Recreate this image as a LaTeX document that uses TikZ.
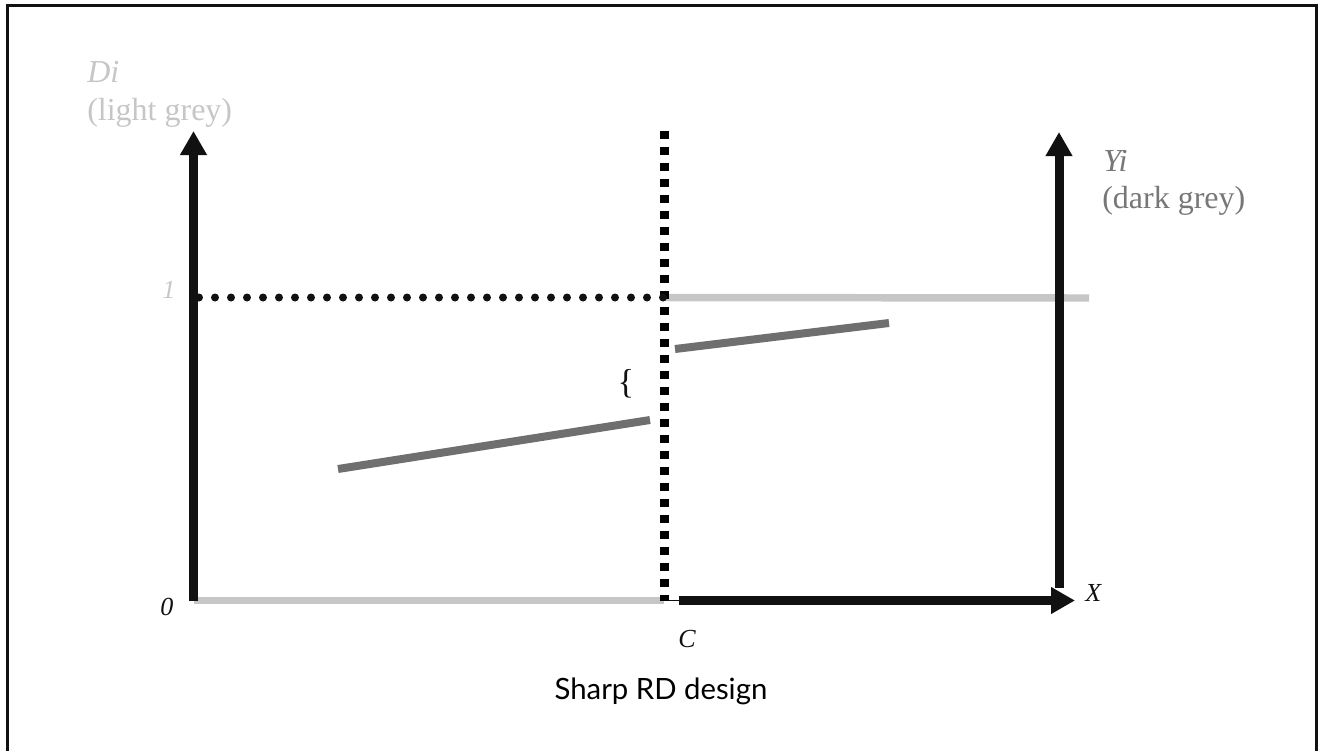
\documentclass[tikz,border=0pt]{standalone}
\usepackage{fontspec}
\setmainfont{Liberation Serif}
\newfontfamily\titlefont{Lato}
\usetikzlibrary{arrows.meta}
\definecolor{lgrey}{HTML}{C6C6C6}
\definecolor{dgrey}{HTML}{6F6F6F}
\definecolor{tgrey}{HTML}{777777}
\definecolor{ink}{HTML}{111111}
\tikzset{
  axis/.style={draw=ink, line width=6.75pt, -{Triangle[length=18pt,width=19pt]}},
  lightbar/.style={draw=lgrey, line width=5.6pt},
  darkbar/.style={draw=dgrey, line width=6pt},
  rounddots/.style={draw=ink, line width=6pt, line cap=round, dash pattern=on 0pt off 12pt},
  squaredots/.style={draw=black, line width=6.75pt, dash pattern=on 6pt off 6pt},
  bigtxt/.style={inner sep=0pt, anchor=base west, font=\fontsize{24}{28}\selectfont},
  smalltxt/.style={inner sep=0pt, anchor=base west, font=\fontsize{19.5}{23}\selectfont\itshape, text=ink},
}
\begin{document}
\begin{tikzpicture}[x=0.75pt, y=-0.75pt]
\useasboundingbox (0,0) rectangle (1319,751);
% frame (open at bottom)
\draw[line width=2.25pt, draw=ink] (7.5,751) -- (7.5,5.5) -- (1316.5,5.5) -- (1316.5,751);
% coordinates
\coordinate (O) at (193.5,600.5);
\coordinate (Dtop) at (193.5,131);
\coordinate (Cb) at (664,600.5);
\coordinate (Xs) at (679,600.5);
\coordinate (Xe) at (1075,600.5);
\coordinate (Ybot) at (1059,588);
\coordinate (Ytop) at (1059,132);
\coordinate (Ct) at (664.5,131);
\coordinate (Cbot) at (664.5,601);
\coordinate (Onel) at (199,297.5);
\coordinate (Onec) at (664,297.5);
\coordinate (Oner) at (1089,298);
\coordinate (Cg) at (666,600.5);
\coordinate (L1) at (338,469);
\coordinate (L2) at (650,420);
\coordinate (R1) at (675,349);
\coordinate (R2) at (889,323);
% grey treatment lines
\draw[lightbar] (O) -- (Cb);
\draw[lightbar] (Onec) -- (Oner);
% outcome lines
\draw[darkbar] (L1) -- (L2);
\draw[darkbar] (R1) -- (R2);
% axes
\draw[axis] (O) -- (Dtop);
\draw[axis] (Ybot) -- (Ytop);
\draw[axis] (Xs) -- (Xe);
\draw[draw=ink, line width=1.1pt] (Cg) -- (Xs);
% cutoff dotted line
\draw[squaredots] (Ct) -- (Cbot);
\draw[rounddots] (Onel) -- (Onec);
% labels
\node[bigtxt, text=lgrey] (di) at (87,82) {\itshape Di};
\node[bigtxt, text=lgrey] (dilab) at (87,120) {(light grey)};
\node[bigtxt, text=tgrey] (yi) at (1103,171) {\itshape Yi};
\node[bigtxt, text=tgrey] (yilab) at (1102,208) {(dark grey)};
\node[smalltxt, text=lgrey] (one) at (162,298) {1};
\node[smalltxt] (zero) at (160,615) {0};
\node[smalltxt] (cl) at (678,647) {C};
\node[smalltxt] (xl) at (1085,601) {X};
\node[inner sep=0pt, font=\fontsize{26}{30}\selectfont, text=ink] (br) at (626,384) {\{};
\node[inner sep=0pt, anchor=base, font=\titlefont\fontsize{22}{26}\selectfont, text=black] (title) at (661,699) {Sharp RD design};
\end{tikzpicture}
\end{document}
